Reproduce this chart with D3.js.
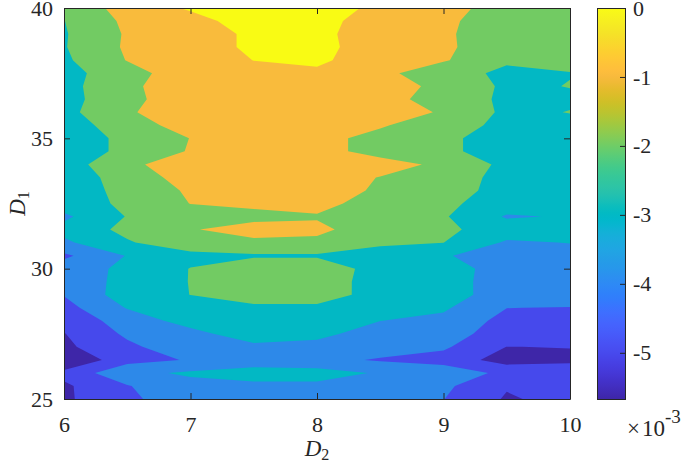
<!DOCTYPE html>
<html lang="en">

<head>
    <meta charset="UTF-8">
    <title>D1 - D2 filled contour</title>
    <script src="https://cdnjs.cloudflare.com/ajax/libs/d3/7.8.5/d3.min.js"></script>
    <style type="text/css">
        body {
            margin: 0;
            background: #fff;
        }
    </style>
</head>

<body>
    <div id="chart"></div>
    <script type="text/javascript">
        // grid of the surface (D2 along x, D1 along y)
        var d2 = [6, 6.5, 7, 7.5, 8, 8.5, 9, 9.5, 10];
        var d1 = [25, 25.5, 26, 26.5, 27, 27.5, 28, 28.5, 29, 29.5, 30, 30.5, 31, 31.5, 32,
            32.5, 33, 33.5, 34, 34.5, 35, 35.5, 36, 36.5, 37, 37.5, 38, 38.5, 39, 39.5, 40];

        // values in units of 1e-3, one row per D1 value (bottom row first)
        var zData = [
            [-4.993, -4.212, -3.564, -3.483, -3.483, -3.645, -4.034, -4.949, -4.593], // 25
            [-4.998, -4.091, -3.515, -3.402, -3.402, -3.564, -3.888, -4.787, -4.536],
            [-4.617, -3.459, -3.119, -2.916, -2.916, -3.321, -3.564, -4.253, -4.374], // 26
            [-5.670, -4.317, -3.993, -3.645, -3.807, -4.131, -4.374, -5.208, -5.022],
            [-5.022, -4.212, -3.540, -3.418, -3.524, -3.645, -3.929, -4.868, -4.836], // 27
            [-4.889, -3.912, -3.483, -2.811, -2.997, -3.669, -3.726, -4.415, -4.455],
            [-4.617, -3.669, -2.932, -2.835, -2.835, -3.232, -3.443, -4.309, -4.374], // 28
            [-4.334, -3.191, -2.916, -2.592, -2.592, -2.916, -3.127, -4.042, -4.074],
            [-4.010, -2.827, -2.422, -2.025, -2.025, -2.762, -2.916, -3.605, -3.645], // 29
            [-3.807, -2.965, -2.406, -1.944, -1.944, -2.827, -2.876, -3.653, -3.605],
            [-3.645, -3.070, -2.406, -2.001, -2.001, -2.714, -2.835, -3.645, -3.564], // 30
            [-4.200, -3.200, -2.673, -2.511, -2.511, -2.754, -3.159, -3.702, -3.564],
            [-3.386, -2.511, -1.887, -1.863, -1.823, -2.309, -2.422, -3.341, -3.216], // 31
            [-2.997, -2.219, -1.701, -1.158, -1.418, -2.138, -2.268, -2.827, -2.916],
            [-3.390, -2.390, -1.944, -1.944, -1.701, -1.944, -2.349, -3.321, -3.175], // 32
            [-2.835, -2.284, -1.604, -1.377, -1.337, -2.025, -2.268, -2.811, -2.916],
            [-2.835, -2.211, -1.499, -1.296, -1.377, -1.693, -2.066, -2.730, -2.835], // 33
            [-2.754, -2.187, -1.191, -1.215, -1.296, -1.644, -2.025, -2.681, -2.795],
            [-2.795, -1.839, -1.061, -1.134, -1.215, -1.337, -1.766, -2.641, -2.754], // 34
            [-2.835, -2.260, -1.555, -1.296, -1.377, -1.871, -2.187, -2.973, -2.835],
            [-2.835, -2.260, -1.604, -1.296, -1.377, -1.871, -2.187, -2.973, -2.835], // 35
            [-2.754, -2.082, -1.191, -1.215, -1.296, -1.539, -2.082, -2.633, -2.673],
            [-2.673, -1.701, -1.191, -1.134, -1.175, -1.377, -1.669, -2.608, -2.406], // 36
            [-2.714, -1.855, -1.094, -1.134, -1.134, -1.337, -1.944, -2.584, -2.552],
            [-2.714, -1.766, -1.183, -1.134, -1.134, -1.296, -1.798, -2.576, -2.406], // 37
            [-2.673, -2.001, -1.029, -0.972, -0.996, -1.377, -2.187, -2.552, -2.454],
            [-2.568, -1.588, -1.134, -0.802, -0.624, -1.377, -1.539, -2.349, -2.187], // 38
            [-2.479, -1.507, -1.134, -0.689, -0.567, -1.239, -1.499, -2.049, -2.187],
            [-2.495, -1.531, -1.134, -0.689, -0.608, -1.239, -1.499, -2.106, -2.187], // 39
            [-2.446, -1.450, -1.053, -0.486, -0.324, -1.507, -1.539, -1.847, -2.066],
            [-2.390, -1.207, -0.729, 0.000, -0.162, -1.118, -1.377, -1.920, -2.025]  // 40
        ];

        var levels = [-4.86, -4.05, -3.24, -2.43, -1.62, -0.81];
        var xTicks = [6, 7, 8, 9, 10];
        var yTicks = [25, 30, 35, 40];
        var cTicks = [0, -1, -2, -3, -4, -5];

        // fill colour of each band, lowest first
        var bandColors = ['#3e26a8', '#4649ec', '#2d89e9', '#02b8c4', '#72cb63', '#f9bb3c', '#f9fb14'];

        // parula, for the colour bar
        var parula = [
            [0.2422, 0.1504, 0.6603], [0.2504, 0.1650, 0.7076], [0.2578, 0.1818, 0.7511], [0.2647, 0.1978, 0.7952],
            [0.2706, 0.2147, 0.8364], [0.2751, 0.2342, 0.8710], [0.2783, 0.2559, 0.8991], [0.2803, 0.2782, 0.9221],
            [0.2813, 0.3006, 0.9414], [0.2810, 0.3228, 0.9579], [0.2795, 0.3447, 0.9717], [0.2760, 0.3667, 0.9829],
            [0.2699, 0.3892, 0.9906], [0.2602, 0.4123, 0.9952], [0.2440, 0.4358, 0.9988], [0.2206, 0.4603, 0.9973],
            [0.1963, 0.4847, 0.9892], [0.1834, 0.5074, 0.9798], [0.1786, 0.5289, 0.9682], [0.1764, 0.5499, 0.9520],
            [0.1687, 0.5703, 0.9359], [0.1540, 0.5902, 0.9218], [0.1460, 0.6091, 0.9079], [0.1380, 0.6276, 0.8973],
            [0.1248, 0.6459, 0.8883], [0.1113, 0.6635, 0.8763], [0.0952, 0.6798, 0.8598], [0.0689, 0.6948, 0.8394],
            [0.0297, 0.7082, 0.8163], [0.0036, 0.7203, 0.7917], [0.0067, 0.7312, 0.7660], [0.0433, 0.7411, 0.7394],
            [0.0964, 0.7500, 0.7120], [0.1408, 0.7584, 0.6842], [0.1717, 0.7670, 0.6554], [0.1938, 0.7758, 0.6251],
            [0.2161, 0.7843, 0.5923], [0.2470, 0.7918, 0.5567], [0.2906, 0.7973, 0.5188], [0.3406, 0.8008, 0.4789],
            [0.3909, 0.8029, 0.4354], [0.4456, 0.8024, 0.3909], [0.5044, 0.7993, 0.3480], [0.5616, 0.7942, 0.3045],
            [0.6174, 0.7876, 0.2612], [0.6720, 0.7793, 0.2227], [0.7242, 0.7698, 0.1910], [0.7738, 0.7598, 0.1646],
            [0.8203, 0.7498, 0.1535], [0.8634, 0.7406, 0.1596], [0.9035, 0.7330, 0.1774], [0.9393, 0.7288, 0.2100],
            [0.9728, 0.7298, 0.2394], [0.9956, 0.7434, 0.2371], [0.9970, 0.7659, 0.2199], [0.9952, 0.7893, 0.2028],
            [0.9892, 0.8136, 0.1885], [0.9786, 0.8386, 0.1766], [0.9676, 0.8639, 0.1643], [0.9610, 0.8890, 0.1537],
            [0.9597, 0.9135, 0.1423], [0.9628, 0.9373, 0.1265], [0.9691, 0.9606, 0.1064], [0.9769, 0.9839, 0.0805]
        ];

        var w = 685, h = 462;
        var pLeft = 64, pRight = 570, pTop = 8, pBottom = 399;
        var ink = '#262626';
        var serif = 'Liberation Serif, Times New Roman, serif';

        var svg = d3.select('#chart').append('svg')
            .attr('width', w)
            .attr('height', h);

        svg.append('rect')
            .attr('width', w)
            .attr('height', h)
            .attr('fill', '#fff');

        var xScale = d3.scaleLinear().domain([6, 10]).range([pLeft, pRight]);
        var yScale = d3.scaleLinear().domain([25, 40]).range([pBottom, pTop]);

        // d3.contours puts grid value i at i + 0.5
        var nx = d2.length, ny = d1.length;
        var gridX = d3.scaleLinear().domain([0.5, nx - 0.5]).range([d2[0], d2[nx - 1]]);
        var gridY = d3.scaleLinear().domain([0.5, ny - 0.5]).range([d1[0], d1[ny - 1]]);

        var values = [];
        zData.forEach(function (row) {
            values = values.concat(row);
        });

        var contours = d3.contours()
            .size([nx, ny])
            .thresholds(levels)(values);

        var path = d3.geoPath(d3.geoTransform({
            point: function (px, py) {
                this.stream.point(xScale(gridX(px)), yScale(gridY(py)));
            }
        }));

        var defs = svg.append('defs');
        defs.append('clipPath').attr('id', 'plotClip')
            .append('rect')
            .attr('x', pLeft)
            .attr('y', pTop)
            .attr('width', pRight - pLeft)
            .attr('height', pBottom - pTop);

        var plot = svg.append('g').attr('clip-path', 'url(#plotClip)');

        plot.append('rect')
            .attr('x', pLeft)
            .attr('y', pTop)
            .attr('width', pRight - pLeft)
            .attr('height', pBottom - pTop)
            .attr('fill', bandColors[0]);

        plot.selectAll('path.band')
            .data(contours)
            .enter()
            .append('path')
            .attr('class', 'band')
            .attr('d', path)
            .attr('fill-rule', 'evenodd')
            .attr('fill', function (d, i) {
                return bandColors[i + 1];
            });

        function styleAxis(sel) {
            sel.attr('font-family', null).attr('font-size', null)
                .style('font-family', serif).style('font-size', '22px');
            sel.selectAll('path, line').attr('stroke', ink);
            sel.selectAll('text').attr('fill', ink);
        }

        var plain = function (d) {
            return String(d);
        };

        svg.append('g')
            .attr('transform', 'translate(0,' + pBottom + ')')
            .call(d3.axisBottom(xScale).tickValues(xTicks).tickFormat(plain)
                .tickSizeInner(-6).tickSizeOuter(0).tickPadding(17))
            .call(styleAxis);

        svg.append('g')
            .attr('transform', 'translate(0,' + pTop + ')')
            .call(d3.axisTop(xScale).tickValues(xTicks).tickSizeInner(-6).tickSizeOuter(0).tickFormat(''))
            .call(styleAxis);

        svg.append('g')
            .attr('transform', 'translate(' + pLeft + ',0)')
            .call(d3.axisLeft(yScale).tickValues(yTicks).tickFormat(plain)
                .tickSizeInner(-6).tickSizeOuter(0).tickPadding(11))
            .call(styleAxis);

        svg.append('g')
            .attr('transform', 'translate(' + pRight + ',0)')
            .call(d3.axisRight(yScale).tickValues(yTicks).tickSizeInner(-6).tickSizeOuter(0).tickFormat(''))
            .call(styleAxis);

        // axis labels
        var xLabel = svg.append('text')
            .attr('x', (pLeft + pRight) / 2)
            .attr('y', 456)
            .attr('text-anchor', 'middle')
            .style('font-family', serif)
            .style('font-size', '23px')
            .attr('fill', ink);
        xLabel.append('tspan').attr('font-style', 'italic').text('D');
        xLabel.append('tspan').style('font-size', '16px').attr('dy', 4).text('2');

        var yLabel = svg.append('text')
            .attr('transform', 'translate(25,' + (pTop + pBottom) / 2 + ') rotate(-90)')
            .attr('text-anchor', 'middle')
            .style('font-family', serif)
            .style('font-size', '23px')
            .attr('fill', ink);
        yLabel.append('tspan').attr('font-style', 'italic').text('D');
        yLabel.append('tspan').style('font-size', '16px').attr('dy', 4).text('1');

        // colour bar
        var cbX = 597, cbW = 28;
        var cScale = d3.scaleLinear().domain(d3.extent(values)).range([pBottom, pTop]);

        var grad = defs.append('linearGradient')
            .attr('id', 'parulaGrad')
            .attr('x1', 0).attr('y1', 1)
            .attr('x2', 0).attr('y2', 0);
        grad.selectAll('stop')
            .data(parula)
            .enter()
            .append('stop')
            .attr('offset', function (d, i) {
                return i / (parula.length - 1);
            })
            .attr('stop-color', function (d) {
                return d3.rgb(d[0] * 255, d[1] * 255, d[2] * 255).formatHex();
            });

        svg.append('rect')
            .attr('x', cbX)
            .attr('y', pTop)
            .attr('width', cbW)
            .attr('height', pBottom - pTop)
            .attr('fill', 'url(#parulaGrad)');

        svg.append('g')
            .attr('transform', 'translate(' + (cbX + cbW) + ',0)')
            .call(d3.axisRight(cScale).tickValues(cTicks).tickFormat(plain)
                .tickSizeInner(-5).tickSizeOuter(0).tickPadding(8))
            .call(styleAxis);

        svg.append('rect')
            .attr('x', cbX + 0.5)
            .attr('y', pTop + 0.5)
            .attr('width', cbW)
            .attr('height', pBottom - pTop)
            .attr('fill', 'none')
            .attr('stroke', ink);

        var expo = svg.append('text')
            .attr('x', 627)
            .attr('y', 436)
            .style('font-family', serif)
            .style('font-size', '23px')
            .attr('fill', ink);
        expo.append('tspan').text('\u00d7');
        expo.append('tspan').attr('dx', 2).text('10');
        expo.append('tspan').style('font-size', '19px').attr('dy', -13).text('-3');
    </script>
</body>

</html>
